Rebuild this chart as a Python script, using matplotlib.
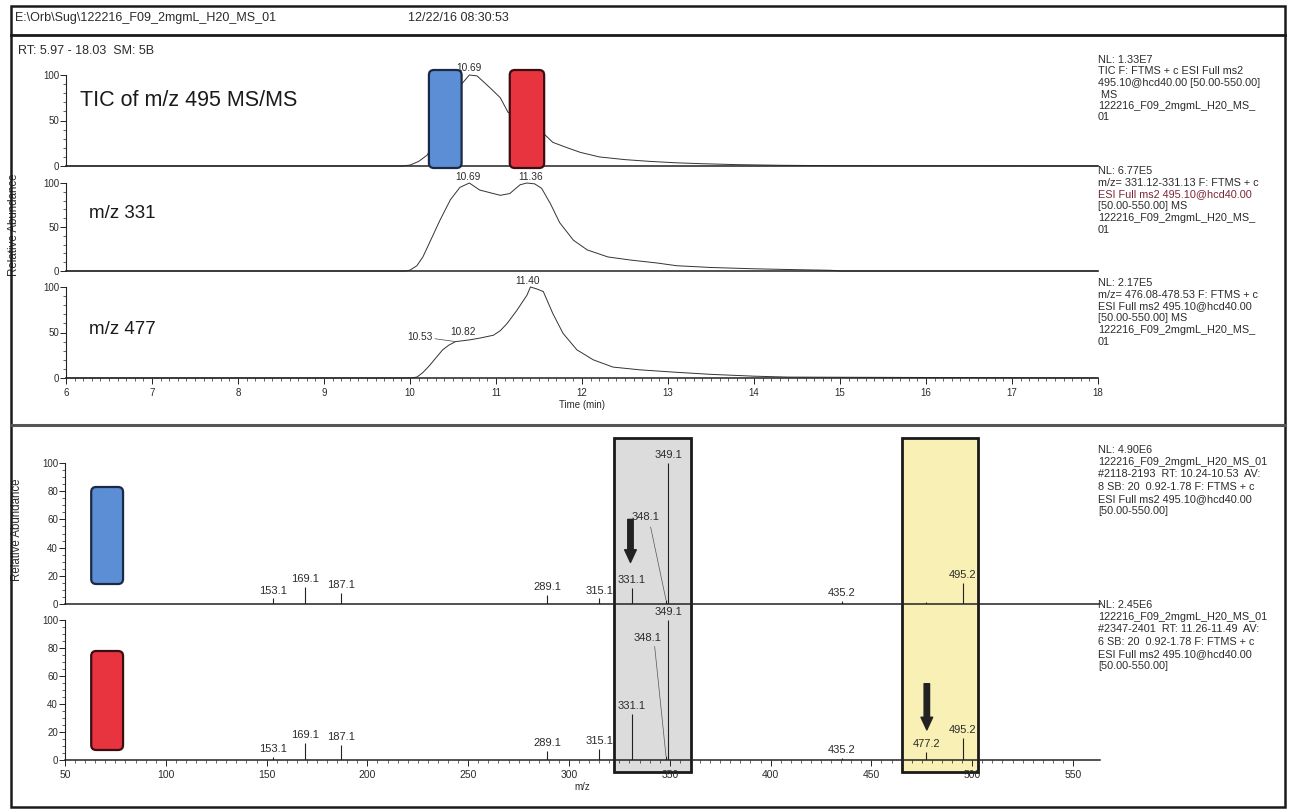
import numpy as np
import matplotlib
matplotlib.use("Agg")
import matplotlib.pyplot as plt
from matplotlib.patches import FancyBboxPatch, Rectangle
from matplotlib.lines import Line2D
from matplotlib.ticker import MultipleLocator, FixedLocator
import matplotlib.transforms as mtransforms

plt.rcParams["font.family"] = ["Liberation Sans", "DejaVu Sans"]

# ---------------------------------------------------------------- data
# Chromatograms (retention time in min, relative abundance in %)
tic_t = [6.0, 9.9, 10.0, 10.1, 10.2, 10.3, 10.4, 10.5, 10.6, 10.69, 10.78, 10.93,
         11.05, 11.14, 11.25, 11.35, 11.45, 11.55, 11.66, 11.83, 11.98, 12.2, 12.5,
         12.8, 13.1, 13.4, 13.8, 14.3, 15.0, 18.0]
tic_v = [0, 0, 1, 5, 12, 30, 52, 72, 90, 100, 99, 86, 75, 59, 55, 52, 47, 36, 26,
         20, 15, 10, 7, 5, 3.5, 2.5, 1.5, 0.8, 0.3, 0]

c331_t = [6.0, 9.95, 10.0, 10.08, 10.15, 10.25, 10.35, 10.47, 10.58, 10.69, 10.81,
          10.93, 11.05, 11.16, 11.28, 11.36, 11.45, 11.53, 11.63, 11.74, 11.9, 12.06,
          12.3, 12.56, 12.88, 13.1, 13.5, 14.0, 14.5, 14.9, 15.0, 18.0]
c331_v = [0, 0, 1, 6, 16, 37, 58, 81, 95, 100, 92, 89, 86, 88, 98, 100, 99, 94, 77,
          55, 35, 24, 16, 12.5, 9, 6, 4, 2.5, 1.5, 0.8, 0, 0]

c477_t = [6.0, 10.0, 10.08, 10.15, 10.23, 10.3, 10.38, 10.45, 10.53, 10.62, 10.7,
          10.82, 10.97, 11.05, 11.13, 11.24, 11.36, 11.40, 11.47, 11.55, 11.66, 11.78,
          11.94, 12.13, 12.36, 12.67, 13.06, 13.5, 14.0, 14.4, 18.0]
c477_v = [0, 0, 1, 6, 14, 22, 31, 36, 40, 41, 42, 44, 47, 52, 60, 74, 91, 100, 98,
          95, 71, 49, 31, 20, 12, 9, 6.5, 4, 2, 1, 0]

tic_peaks = [10.69]
c331_peaks = [10.69, 11.36]
c477_peaks = [10.53, 10.82, 11.40]

# MS/MS spectra (m/z, relative abundance in %)
sp1_mz = [153.1, 169.1, 187.1, 289.1, 315.1, 331.1, 348.1, 349.1, 435.2, 477.2, 495.2]
sp1_int = [4, 12, 8, 6.5, 4, 11.5, 3, 100, 2, 1.5, 15]
sp1_labeled = [153.1, 169.1, 187.1, 289.1, 315.1, 331.1, 348.1, 349.1, 435.2, 495.2]

sp2_mz = [153.1, 169.1, 187.1, 289.1, 315.1, 331.1, 348.1, 349.1, 435.2, 477.2, 495.2]
sp2_int = [2.5, 12, 11, 6.5, 8, 33, 3, 100, 1.5, 6, 16]
sp2_labeled = [153.1, 169.1, 187.1, 289.1, 315.1, 331.1, 348.1, 349.1, 435.2, 477.2, 495.2]

tic_info = ["NL: 1.33E7", "TIC F: FTMS + c ESI Full ms2",
            "495.10@hcd40.00 [50.00-550.00]", " MS", "122216_F09_2mgmL_H20_MS_", "01"]
c331_info = ["NL: 6.77E5", "m/z= 331.12-331.13 F: FTMS + c",
             "ESI Full ms2 495.10@hcd40.00", "[50.00-550.00] MS",
             "122216_F09_2mgmL_H20_MS_", "01"]
c477_info = ["NL: 2.17E5", "m/z= 476.08-478.53 F: FTMS + c",
             "ESI Full ms2 495.10@hcd40.00", "[50.00-550.00] MS",
             "122216_F09_2mgmL_H20_MS_", "01"]
sp1_info = ["NL: 4.90E6", "122216_F09_2mgmL_H20_MS_01",
            "#2118-2193  RT: 10.24-10.53  AV:", "8 SB: 20  0.92-1.78 F: FTMS + c",
            "ESI Full ms2 495.10@hcd40.00", "[50.00-550.00]"]
sp2_info = ["NL: 2.45E6", "122216_F09_2mgmL_H20_MS_01",
            "#2347-2401  RT: 11.26-11.49  AV:", "6 SB: 20  0.92-1.78 F: FTMS + c",
            "ESI Full ms2 495.10@hcd40.00", "[50.00-550.00]"]

# ---------------------------------------------------------------- figure
W, H = 1289, 810
fig = plt.figure(figsize=(W / 100, H / 100), dpi=100)
TXT = "#2b2b2b"
LINE = "#222222"
SMALL = 8.3
INFO = 7.8


def add_px_axes(left, top, right, bottom):
    ax = fig.add_axes([left / W, 1 - bottom / H, (right - left) / W, (bottom - top) / H])
    ax.set_facecolor("none")
    return ax


def ftext(x, y, s, **kw):
    kw.setdefault("color", TXT)
    kw.setdefault("fontsize", SMALL)
    return fig.text(x / W, 1 - y / H, s, **kw)


def info_block(x, y, lines, step, colors=None):
    for i, s in enumerate(lines):
        c = TXT if colors is None else colors[i]
        ftext(x, y + i * step, s, va="top", ha="left", color=c, fontsize=INFO)


def style_chrom(ax, show_x):
    ax.set_xlim(6, 18)
    ax.set_ylim(0, 100)
    for s in ["top", "right"]:
        ax.spines[s].set_visible(False)
    ax.spines["left"].set_linewidth(0.8)
    ax.spines["bottom"].set_linewidth(1.1)
    ax.spines["left"].set_color(LINE)
    ax.spines["bottom"].set_color(LINE)
    ax.yaxis.set_major_locator(FixedLocator([0, 50, 100]))
    ax.yaxis.set_minor_locator(MultipleLocator(10))
    ax.tick_params(axis="y", which="major", length=4, width=0.7, labelsize=7,
                   pad=1, labelcolor=TXT, color=LINE)
    ax.tick_params(axis="y", which="minor", length=2, width=0.5, color=LINE)
    if show_x:
        ax.xaxis.set_major_locator(MultipleLocator(1))
        ax.xaxis.set_minor_locator(MultipleLocator(0.1))
        ax.tick_params(axis="x", which="major", length=4, width=0.7, labelsize=7,
                       pad=3, labelcolor=TXT, color=LINE)
        ax.tick_params(axis="x", which="minor", length=2, width=0.5, color=LINE)
    else:
        ax.tick_params(axis="x", which="both", bottom=False, labelbottom=False)


def style_spec(ax, show_x):
    ax.set_xlim(50, 563.4)
    ax.set_ylim(0, 100)
    for s in ["top", "right"]:
        ax.spines[s].set_visible(False)
    ax.spines["left"].set_linewidth(0.8)
    ax.spines["bottom"].set_linewidth(1.1)
    ax.spines["left"].set_color(LINE)
    ax.spines["bottom"].set_color(LINE)
    ax.yaxis.set_major_locator(MultipleLocator(20))
    ax.yaxis.set_minor_locator(MultipleLocator(5))
    ax.tick_params(axis="y", which="major", length=4, width=0.7, labelsize=7,
                   pad=1, labelcolor=TXT, color=LINE)
    ax.tick_params(axis="y", which="minor", length=2, width=0.5, color=LINE)
    if show_x:
        ax.xaxis.set_major_locator(FixedLocator(np.arange(50, 551, 50)))
        ax.xaxis.set_minor_locator(FixedLocator(np.arange(50, 551, 5)))
        ax.tick_params(axis="x", which="major", length=4, width=0.7, labelsize=7.5,
                       pad=3, labelcolor=TXT, color=LINE)
        ax.tick_params(axis="x", which="minor", length=2, width=0.5, color=LINE)
    else:
        ax.tick_params(axis="x", which="both", bottom=False, labelbottom=False)


# ---------------------------------------------------------------- chromatograms
ax_tic = add_px_axes(66, 75, 1098, 166)
ax331 = add_px_axes(66, 183, 1098, 271)
ax477 = add_px_axes(66, 287, 1098, 378)

for ax, t, v, show in [(ax_tic, tic_t, tic_v, False), (ax331, c331_t, c331_v, False),
                       (ax477, c477_t, c477_v, True)]:
    style_chrom(ax, show)
    ax.plot(t, v, color="#333333", lw=0.7, clip_on=False)


def label_peaks(ax, t, v, peaks, shifts=None, leaders=()):
    shifts = shifts or {}
    for p in peaks:
        y = float(np.interp(p, t, v))
        dx, dy = shifts.get(p, (0.0, 0.0))
        ax.annotate(f"{p:.2f}", xy=(p, y), xytext=(p + dx, y + dy), textcoords="data",
                    ha="center", va="bottom", fontsize=7.3, color=TXT,
                    annotation_clip=False,
                    arrowprops=(dict(arrowstyle="-", lw=0.5, color="#444",
                                     shrinkA=0, shrinkB=0) if p in leaders else None))


label_peaks(ax_tic, tic_t, tic_v, tic_peaks, {10.69: (0.0, 2)})
label_peaks(ax331, c331_t, c331_v, c331_peaks, {10.69: (-0.02, 1), 11.36: (0.04, 1)})
label_peaks(ax477, c477_t, c477_v, c477_peaks,
            {10.53: (-0.42, 0), 10.82: (-0.2, 1), 11.40: (-0.03, 1)}, leaders=(10.53,))

ax477.set_xlabel("Time (min)", fontsize=7, color=TXT, labelpad=2)

ftext(80, 100, "TIC of m/z 495 MS/MS", fontsize=15.5, va="center", color="#1a1a1a")
ftext(89, 213, "m/z 331", fontsize=13.5, va="center", color="#1a1a1a")
ftext(89, 330, "m/z 477", fontsize=13.5, va="center", color="#1a1a1a")

info_block(1098, 55, tic_info, 11.5)
info_block(1098, 166, c331_info, 11.8,
           colors=[TXT, TXT, "#7a2638", TXT, TXT, TXT])
info_block(1098, 278, c477_info, 11.8)

ftext(14, 225, "Relative Abundance", rotation=90, ha="center", va="center")

# ---------------------------------------------------------------- spectra
sp1 = add_px_axes(65, 463, 1100, 604)
sp2 = add_px_axes(65, 620, 1100, 760)
style_spec(sp1, False)
style_spec(sp2, True)
sp2.set_xlabel("m/z", fontsize=7, color=TXT, labelpad=2)
ftext(17, 530, "Relative Abundance", rotation=90, ha="center", va="center")


def draw_spectrum(ax, mz, inten, labeled, displaced):
    ax.vlines(mz, 0, inten, color=LINE, lw=0.8, zorder=3)
    for m, i in zip(mz, inten):
        if m not in labeled:
            continue
        if m in displaced:
            lx, ly, sx, sy = displaced[m]
            ax.text(lx, ly, f"{m:.1f}", ha="center", va="bottom", fontsize=8,
                    color=TXT, clip_on=False, zorder=4)
            ax.plot([sx, m], [sy, i], color="#555", lw=0.5, clip_on=False, zorder=3)
        else:
            ax.annotate(f"{m:.1f}", xy=(m, i), xytext=(0, 2), textcoords="offset points",
                        ha="center", va="bottom", fontsize=8, color=TXT,
                        annotation_clip=False, zorder=4)


draw_spectrum(sp1, sp1_mz, sp1_int, sp1_labeled,
              {348.1: (338.0, 58.5, 340.5, 54.5)})
draw_spectrum(sp2, sp2_mz, sp2_int, sp2_labeled,
              {348.1: (339.0, 83.5, 342.5, 81.0)})

info_block(1098, 445, sp1_info, 12.2)
info_block(1098, 600, sp2_info, 12.2)

# highlighted m/z windows spanning both spectra
blend = mtransforms.blended_transform_factory(sp2.transData, fig.transFigure)
for x0, x1, fc in [(322.1, 360.3, "#dcdcdc"), (465.1, 502.8, "#f8f0b4")]:
    fig.add_artist(Rectangle((x0, 1 - 772 / H), x1 - x0, (772 - 438) / H,
                             transform=blend, facecolor=fc, edgecolor="#1a1a1a",
                             lw=2.0, zorder=-1))

# arrows pointing at the diagnostic ions
arrow_kw = dict(arrowstyle="simple,head_length=0.65,head_width=0.6,tail_width=0.28",
                color="#222222", mutation_scale=14, shrinkA=0, shrinkB=0)
sp1.annotate("", xy=(330.5, 29.5), xytext=(330.5, 60), arrowprops=arrow_kw,
             annotation_clip=False)
sp2.annotate("", xy=(477.5, 21.5), xytext=(477.5, 54.5), arrowprops=arrow_kw,
             annotation_clip=False)


# coloured retention-window markers
def rounded_box(ax, x0_data, x1_data, top_px, bottom_px, fc, ec):
    x0 = ax.transData.transform((x0_data, 0))[0] / fig.dpi
    x1 = ax.transData.transform((x1_data, 0))[0] / fig.dpi
    y0 = (H - bottom_px) / fig.dpi
    h = (bottom_px - top_px) / fig.dpi
    fig.add_artist(FancyBboxPatch((x0, y0), x1 - x0, h,
                                  boxstyle="round,pad=0,rounding_size=0.05",
                                  transform=fig.dpi_scale_trans, facecolor=fc,
                                  edgecolor=ec, lw=1.6, zorder=5))


BLUE, BLUE_E = "#5b8ed4", "#1b2a44"
RED, RED_E = "#e8343f", "#3a0e12"
rounded_box(ax_tic, 10.22, 10.60, 70, 168, BLUE, BLUE_E)
rounded_box(ax_tic, 11.16, 11.56, 70, 168, RED, RED_E)
rounded_box(sp1, 63.0, 78.8, 487, 584, BLUE, BLUE_E)
rounded_box(sp2, 63.0, 78.8, 651, 750, RED, RED_E)

# ---------------------------------------------------------------- frame and header
ftext(15, 18, "E:\\Orb\\Sug\\122216_F09_2mgmL_H20_MS_01", va="center", fontsize=9)
ftext(408, 18, "12/22/16 08:30:53", va="center", fontsize=9)
ftext(18, 51, "RT: 5.97 - 18.03  SM: 5B", va="center", fontsize=9)

fig.add_artist(Rectangle((11 / W, 1 - 807 / H), (1285 - 11) / W, (807 - 6) / H,
                         transform=fig.transFigure, fill=False, edgecolor="#1a1a1a",
                         lw=1.8, zorder=10))
fig.add_artist(Line2D([11 / W, 1285 / W], [1 - 35 / H, 1 - 35 / H],
                      transform=fig.transFigure, color="#1a1a1a", lw=2.0, zorder=10))
fig.add_artist(Line2D([11 / W, 1285 / W], [1 - 425 / H, 1 - 425 / H],
                      transform=fig.transFigure, color="#555555", lw=2.2, zorder=10))

fig.savefig("out.png", dpi=100)
